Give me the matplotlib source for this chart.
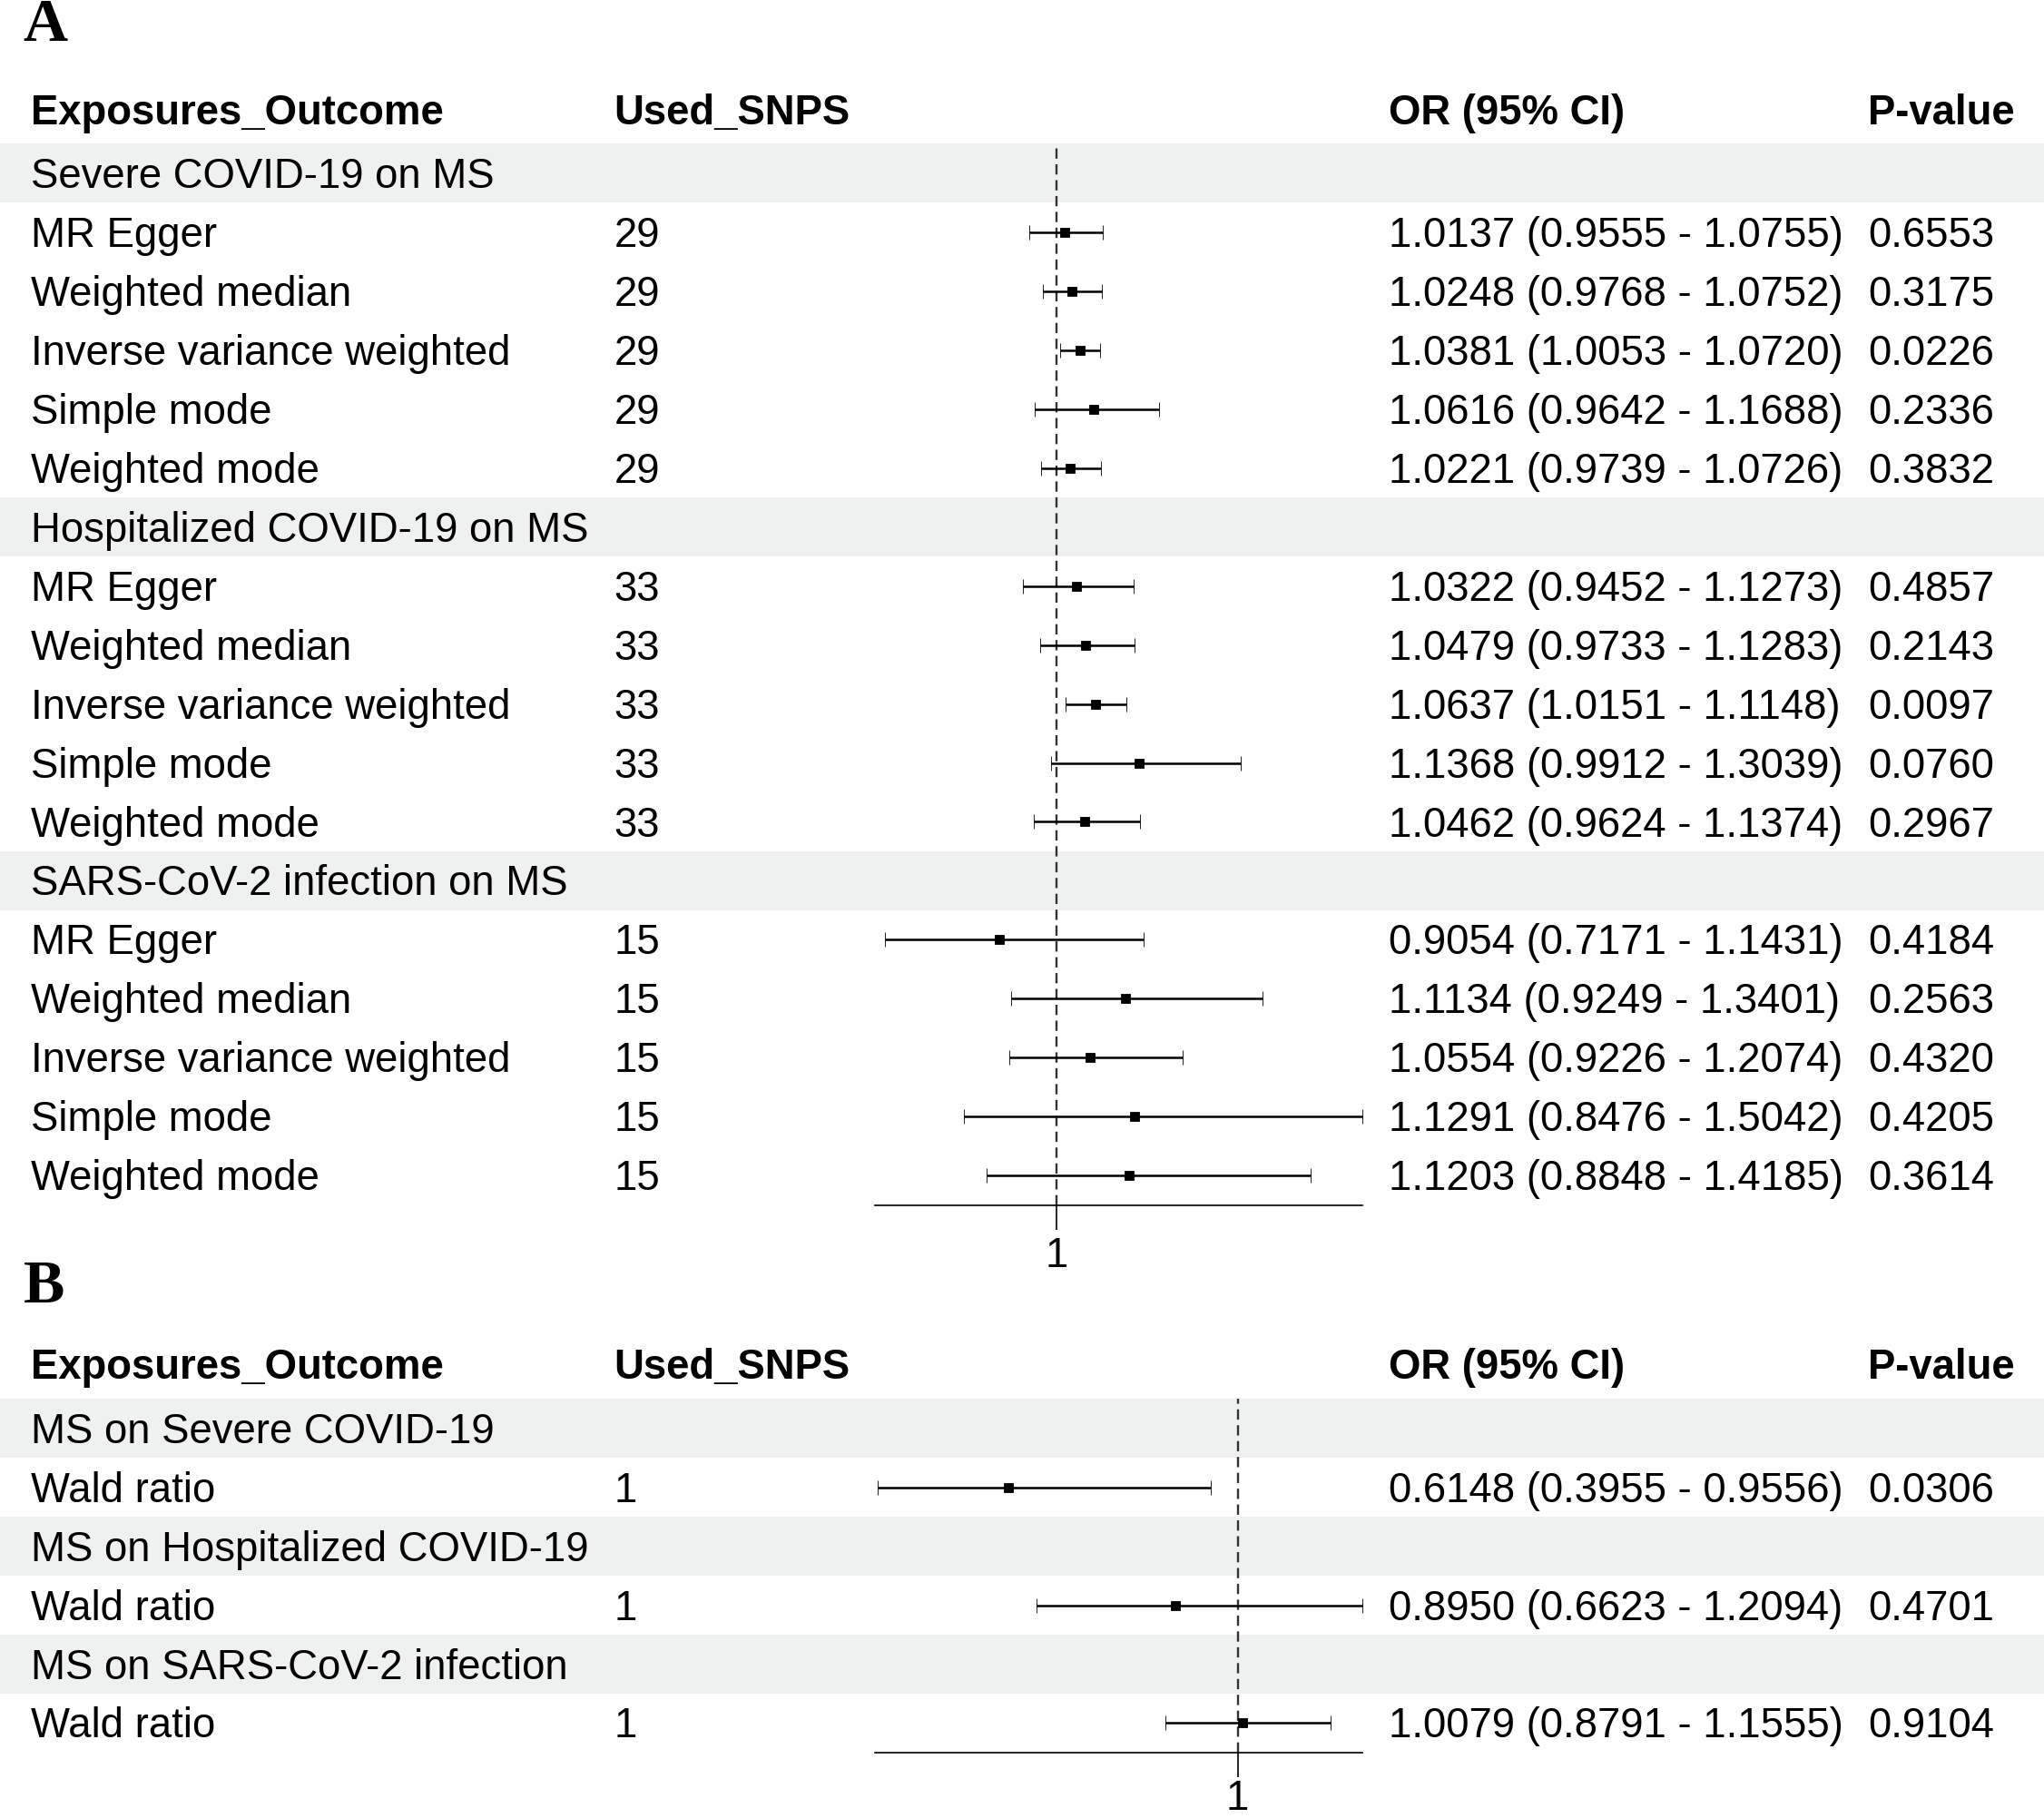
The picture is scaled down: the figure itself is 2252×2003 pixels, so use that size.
import matplotlib
matplotlib.use("Agg")
import matplotlib.pyplot as plt
import matplotlib.transforms as mtransforms
from matplotlib.patches import Rectangle
import numpy as np

# ---------------- data ----------------
methods = ["MR Egger", "Weighted median", "Inverse variance weighted", "Simple mode", "Weighted mode"]

groups_A = ["Severe COVID-19 on MS", "Hospitalized COVID-19 on MS", "SARS-CoV-2 infection on MS"]
snps_A = [29, 33, 15]
or_A = [1.0137, 1.0248, 1.0381, 1.0616, 1.0221,
        1.0322, 1.0479, 1.0637, 1.1368, 1.0462,
        0.9054, 1.1134, 1.0554, 1.1291, 1.1203]
lo_A = [0.9555, 0.9768, 1.0053, 0.9642, 0.9739,
        0.9452, 0.9733, 1.0151, 0.9912, 0.9624,
        0.7171, 0.9249, 0.9226, 0.8476, 0.8848]
hi_A = [1.0755, 1.0752, 1.0720, 1.1688, 1.0726,
        1.1273, 1.1283, 1.1148, 1.3039, 1.1374,
        1.1431, 1.3401, 1.2074, 1.5042, 1.4185]
p_A = [0.6553, 0.3175, 0.0226, 0.2336, 0.3832,
       0.4857, 0.2143, 0.0097, 0.0760, 0.2967,
       0.4184, 0.2563, 0.4320, 0.4205, 0.3614]
xlim_A = (0.70, 1.5042)

groups_B = ["MS on Severe COVID-19", "MS on Hospitalized COVID-19", "MS on SARS-CoV-2 infection"]
methods_B = ["Wald ratio"]
snps_B = [1, 1, 1]
or_B = [0.6148, 0.8950, 1.0079]
lo_B = [0.3955, 0.6623, 0.8791]
hi_B = [0.9556, 1.2094, 1.1555]
p_B = [0.0306, 0.4701, 0.9104]
xlim_B = (0.39, 1.2094)

headers = ["Exposures_Outcome", "Used_SNPS", "OR (95% CI)", "P-value"]

# ---------------- layout ----------------
W, H = 1568.0, 1395.0        # reference layout units
ROW = 45.24
TXT_OFF = 2.8 / ROW          # text sits slightly below row centre
FS = 32.8
FONT = "Liberation Sans"
BAND = "#EEF1F0"
col_x = [24, 471, 1065, 1433]
forest_x = (671, 1045)

fig = plt.figure(figsize=(22.52, 20.03), dpi=100)
fig.patch.set_facecolor("white")


def fx(x):
    return x / W


def draw_panel(letter, letter_y, header_y, first_row_y, groups, meths, snps,
               ors, los, his, ps, xlim, tick_pad):
    nper = len(meths)
    nrows = len(groups) * (nper + 1)
    top = first_row_y - ROW / 2
    bottom = top + nrows * ROW
    ax = fig.add_axes([fx(forest_x[0]), 1 - bottom / H,
                       fx(forest_x[1]) - fx(forest_x[0]), (bottom - top) / H])
    ax.set_xlim(*xlim)
    ax.set_ylim(nrows - 0.5, -0.5)
    ax.patch.set_alpha(0)
    for s in ["top", "left", "right"]:
        ax.spines[s].set_visible(False)
    ax.spines["bottom"].set_linewidth(1.2)
    ax.set_yticks([])
    ax.set_xticks([1])
    ax.set_xticklabels(["1"], fontsize=FS, family=FONT)
    ax.tick_params(axis="x", length=19.5, width=1.2, direction="out", pad=tick_pad)

    tr = mtransforms.blended_transform_factory(fig.transFigure, ax.transData)

    def row_of(y):
        return (y - first_row_y) / ROW

    # panel letter
    ax.text(fx(18), row_of(letter_y), letter, transform=tr, fontsize=49,
            family="Liberation Serif", fontweight="bold", ha="left", va="center")
    # headers
    for cx, h in zip(col_x, headers):
        ax.text(fx(cx), row_of(header_y) + TXT_OFF, h, transform=tr, fontsize=FS,
                family=FONT, fontweight="bold", ha="left", va="center")

    ys, xs, lo_err, hi_err = [], [], [], []
    r = 0
    k = 0
    for g, gname in enumerate(groups):
        band = Rectangle((0, r - 0.5), 1, 1, transform=tr, facecolor=BAND,
                         edgecolor="none", zorder=0, clip_on=False)
        ax.add_patch(band)
        ax.text(fx(col_x[0]), r + TXT_OFF, gname, transform=tr, fontsize=FS,
                family=FONT, ha="left", va="center")
        r += 1
        for m in meths:
            ty = r + TXT_OFF
            ax.text(fx(col_x[0]), ty, m, transform=tr, fontsize=FS, family=FONT,
                    ha="left", va="center")
            ax.text(fx(col_x[1]), ty, str(snps[g]), transform=tr, fontsize=FS,
                    family=FONT, ha="left", va="center")
            ax.text(fx(col_x[2]), ty, f"{ors[k]:.4f} ({los[k]:.4f} - {his[k]:.4f})",
                    transform=tr, fontsize=FS, family=FONT, ha="left", va="center")
            ax.text(fx(col_x[3]), ty, f"{ps[k]:.4f}", transform=tr, fontsize=FS,
                    family=FONT, ha="left", va="center")
            ys.append(r)
            xs.append(ors[k])
            lo_err.append(ors[k] - los[k])
            hi_err.append(his[k] - ors[k])
            r += 1
            k += 1

    ax.axvline(1, color="#333333", lw=1.7, ls=(0, (4.8, 2.6)), zorder=1)
    ax.errorbar(xs, ys, xerr=[lo_err, hi_err], fmt="s", color="black",
                ms=7.3, mew=0.6, elinewidth=1.8, capsize=5.6, capthick=1.8,
                zorder=3, clip_on=False)
    return ax


draw_panel("A", 20, 84, 133, groups_A, methods, snps_A, or_A, lo_A, hi_A, p_A, xlim_A, 5)
draw_panel("B", 988, 1047, 1096, groups_B, methods_B, snps_B, or_B, lo_B, hi_B, p_B, xlim_B, 1.5)

fig.savefig("out.png", dpi=100, facecolor="white")
